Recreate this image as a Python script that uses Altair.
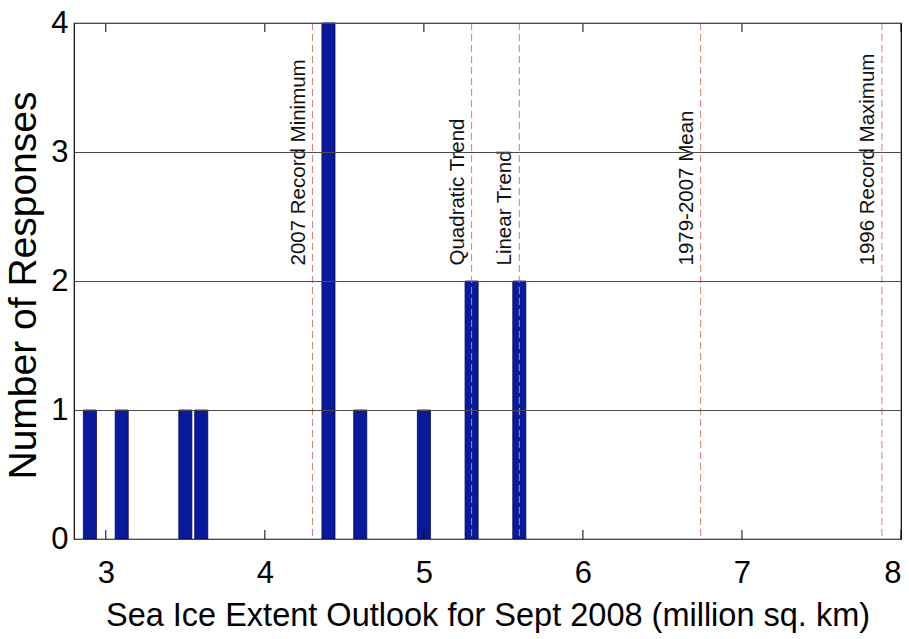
import altair as alt
import pandas as pd

# ---- data ----
bins = [2.9, 3.1, 3.5, 3.6, 4.4, 4.6, 5.0, 5.3, 5.6]
counts = [1, 1, 1, 1, 4, 1, 1, 2, 2]
ref_values = [4.30, 5.30, 5.60, 6.74, 7.88]
ref_labels = [
    "2007 Record Minimum",
    "Quadratic Trend",
    "Linear Trend",
    "1979-2007 Mean",
    "1996 Record Maximum",
]
x_ticks = [3, 4, 5, 6, 7, 8]
y_ticks = [0, 1, 2, 3, 4]

FONT = "Liberation Sans"
HALF = 0.041
LABEL_Y = 2.12
TICK_LEN = 0.07

bars_df = pd.DataFrame({"extent": bins, "count": counts})
ref_df = pd.DataFrame({"value": ref_values, "label": ref_labels})
ticks_df = pd.DataFrame({"t": x_ticks})

x_scale = alt.Scale(domain=[2.8, 8], nice=False, zero=False)
y_scale = alt.Scale(domain=[0, 4], nice=False)

x_axis = alt.Axis(
    values=x_ticks, format="d", grid=False, tickSize=0, domain=False,
    labelFont=FONT, labelFontSize=31, labelColor="black",
    labelPadding=43, labelBaseline="alphabetic",
    title="Sea Ice Extent Outlook for Sept 2008 (million sq. km)",
    titleFont=FONT, titleFontSize=32.5, titleFontWeight="normal",
    titleColor="black", titleBaseline="alphabetic", titleY=86,
)
y_axis = alt.Axis(
    values=y_ticks, format="d", grid=True, gridColor="#4a4a4a", gridWidth=1,
    tickSize=0, domain=False, zindex=1,
    labelFont=FONT, labelFontSize=31, labelColor="black", labelPadding=6,
    title="Number of Responses", titleFont=FONT, titleFontSize=39,
    titleFontWeight="normal", titleColor="black", titleAngle=270,
    titleBaseline="alphabetic", titleAlign="center", titleX=-39, titleY=262,
)

bars = alt.Chart(bars_df).transform_calculate(
    x0=f"datum.extent - {HALF}", x1=f"datum.extent + {HALF}"
).mark_rect(color="#0a1a9c", stroke="#000050", strokeWidth=0.8).encode(
    x=alt.X("x0:Q", scale=x_scale, axis=x_axis),
    x2="x1:Q",
    y=alt.Y("count:Q", scale=y_scale, axis=y_axis),
    y2=alt.datum(0),
)

ref_lines = alt.Chart(ref_df).mark_rule(
    color="#d77f76", strokeDash=[7, 4], strokeWidth=1
).encode(x="value:Q")

ref_text = alt.Chart(ref_df).mark_text(
    angle=270, align="left", baseline="alphabetic", dy=-8,
    font=FONT, fontSize=20.5, color="#111111"
).encode(x="value:Q", y=alt.datum(LABEL_Y), text="label:N")

ticks_bottom = alt.Chart(ticks_df).mark_rule(color="black", strokeWidth=1).encode(
    x="t:Q", y=alt.datum(0), y2=alt.datum(TICK_LEN)
)
ticks_top = alt.Chart(ticks_df).mark_rule(color="black", strokeWidth=1).encode(
    x="t:Q", y=alt.datum(4 - TICK_LEN), y2=alt.datum(4)
)

chart = alt.layer(bars, ticks_bottom, ticks_top, ref_lines, ref_text).properties(
    width=827, height=516,
    autosize=alt.AutoSizeParams(type="none"),
    padding={"left": 74, "top": 23, "right": 8, "bottom": 100},
    background="white",
).configure_view(stroke="black", strokeWidth=1.2)

chart.save("out.html", embed_options={"renderer": "svg", "actions": False})
